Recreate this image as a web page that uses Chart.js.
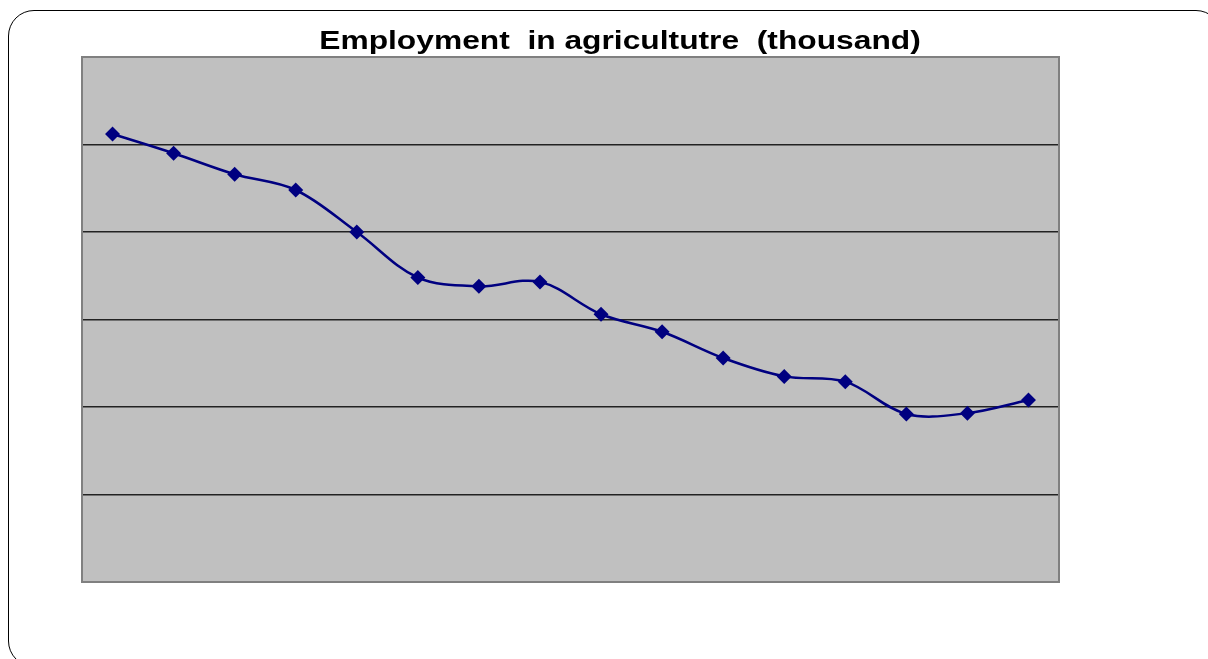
<!DOCTYPE html>
<html>
<head>
<meta charset="utf-8">
<script src="https://cdn.jsdelivr.net/npm/chart.js@4.4.1/dist/chart.umd.min.js"></script>
<style>
    html, body { margin: 0; padding: 0; background: #ffffff; overflow: hidden; }
    .frame {
        position: absolute;
        left: 8px;
        top: 10px;
        width: 1212px;
        height: 655px;
        border: 1.5px solid #000000;
        border-radius: 26px;
    }
    .wrap { position: absolute; left: 0; top: 0; width: 1208px; height: 659px; }
</style>
</head>
<body>
<div class="frame"></div>
<div class="wrap"><canvas id="chart"></canvas></div>
<script>
// no labels are shown on the x axis of the original
const periods = ['1', '2', '3', '4', '5', '6', '7', '8', '9', '10', '11', '12', '13', '14', '15', '16'];
const employment = [512, 490, 466, 448, 400, 348, 338, 343, 306, 286, 256, 235, 229, 192, 193, 208];
const yTicks = [0, 100, 200, 300, 400, 500, 600];
const titleText = 'Employment  in agricultutre  (thousand)';

const plotBackground = {
    id: 'plotBackground',
    beforeDraw(chart) {
        const { ctx, chartArea: a } = chart;
        ctx.save();
        ctx.fillStyle = '#c0c0c0';
        ctx.fillRect(a.left, a.top, a.right - a.left, a.bottom - a.top);
        ctx.restore();
    },
    afterDraw(chart) {
        const { ctx, chartArea: a } = chart;
        ctx.save();
        ctx.strokeStyle = '#808080';
        ctx.lineWidth = 2;
        ctx.strokeRect(a.left, a.top, a.right - a.left, a.bottom - a.top);
        ctx.restore();
    },
};

// the title in the original is stretched sideways, so draw it by hand
const wideTitle = {
    id: 'wideTitle',
    afterDraw(chart) {
        const ctx = chart.ctx;
        ctx.save();
        ctx.font = "bold 25px 'Liberation Sans', Arial, sans-serif";
        ctx.fillStyle = '#000000';
        ctx.textAlign = 'center';
        ctx.textBaseline = 'alphabetic';
        ctx.translate(620, 48.5);
        ctx.scale(1.27, 1);
        ctx.fillText(titleText, 0, 0);
        ctx.restore();
    },
};

new Chart(document.getElementById('chart'), {
    type: 'line',
    data: {
        labels: periods,
        datasets: [{
            label: 'Employment in agriculture',
            data: employment,
            borderColor: '#000080',
            backgroundColor: '#000080',
            borderWidth: 2.5,
            tension: 0.35,
            pointStyle: 'rectRot',
            pointRadius: 7.5,
            pointBorderWidth: 0,
        }],
    },
    options: {
        responsive: true,
        maintainAspectRatio: false,
        animation: false,
        layout: { padding: { left: 82, right: 50, top: 57, bottom: 77 } },
        plugins: {
            legend: { display: false },
            tooltip: { enabled: false },
            title: { display: false },
        },
        scales: {
            x: {
                display: false,
                offset: true,
            },
            y: {
                position: 'right',
                min: yTicks[0],
                max: yTicks[yTicks.length - 1],
                afterBuildTicks: (axis) => { axis.ticks = yTicks.map((v) => ({ value: v })); },
                afterFit: (axis) => { axis.width = 99; },
                ticks: { display: false },
                border: { display: false },
                grid: {
                    drawTicks: false,
                    lineWidth: 1.5,
                    color: (c) => (c.index === 0 || c.index === yTicks.length - 1 ? 'rgba(0,0,0,0)' : '#222222'),
                },
            },
        },
    },
    plugins: [plotBackground, wideTitle],
});
</script>
</body>
</html>
